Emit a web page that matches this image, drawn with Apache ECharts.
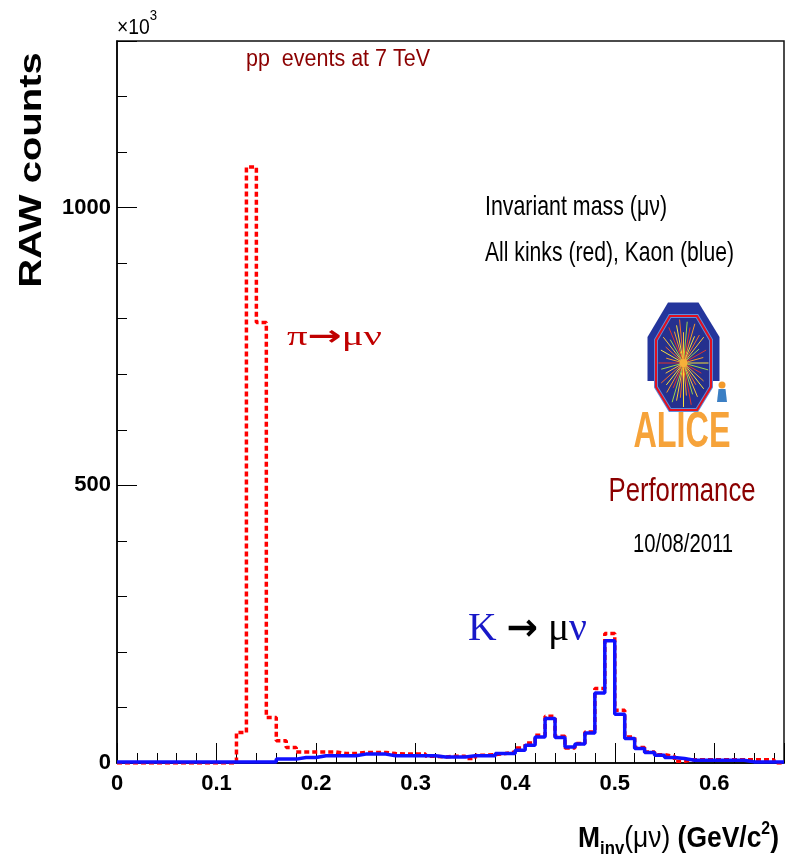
<!DOCTYPE html>
<html><head><meta charset="utf-8">
<script src="https://cdn.jsdelivr.net/npm/echarts@6/dist/echarts.min.js"></script>
<style>html,body{margin:0;padding:0;background:#fff}#c{width:788px;height:863px}</style>
</head><body><div id="c"></div>
<script>
// ---------------- data ----------------
const binWidth = 0.01;          // GeV/c^2 per bin, bins start at 0
const xMin = 0, xMax = 0.67;
const yMin = 0, yMax = 1300;    // x10^3 counts
// All kinks (red dashed), one value per bin (x10^3)
const allKinks = [0,0,0,0,0,0,0,0,0,0,0,0,
  55,1073,793,82,40,28,20,20,20,20,
  17,17,19,19,19,17,16,16,16,12,
  11,12,12,8,14,15,17,20,27,36,
  50,84,48,27,35,56,134,233,95,47,
  28,20,15,12,3,6,6,6,6,6,
  6,6,6,6,0];
// Kaon (blue), one value per bin (x10^3)
const kaons = [2,2,2,2,2,2,2,2,2,2,2,2,2,2,2,2,
  7,7,10,10,13,13,13,13,16,16,16,13,13,13,13,13,11,11,11,13,13,13,17,17,
  23,32,47,80,46,29,34,54,126,220,
  88,44,26,19,14,10,8,5,5,5,5,5,5,2,2,2,2];
const xTickLabels = ['0','0.1','0.2','0.3','0.4','0.5','0.6'];
const yTickLabels = ['0','500','1000'];

// ---------------- helpers ----------------
const SANS = '"Liberation Sans", Arial, sans-serif';
const SERIF = '"Liberation Serif", "Times New Roman", serif';
const ARROWF = '"DejaVu Sans", sans-serif';
const mctx = document.createElement('canvas').getContext('2d');
function hasFont(name){
  const t='0123456789 abcdefgh';
  mctx.font='bold 40px monospace'; const a=mctx.measureText(t).width;
  mctx.font='bold 40px "'+name+'", monospace'; const b=mctx.measureText(t).width;
  mctx.font='bold 40px serif'; const c=mctx.measureText(t).width;
  mctx.font='bold 40px "'+name+'", serif'; const d=mctx.measureText(t).width;
  return !(a===b && c===d);
}
const narrow = hasFont('Liberation Sans Narrow');
const AXF = narrow ? '"Liberation Sans Narrow", "Liberation Sans", sans-serif' : SANS;
const AXS = narrow ? 26 : 22;

function fontStr(p){ return (p.italic?'italic ':'normal ')+(p.weight||'normal')+' '+p.size+'px '+(p.family||SANS); }
function run(o){
  const ws = o.pieces.map(p=>{ mctx.font=fontStr(p); return mctx.measureText(p.t).width; });
  const total = ws.reduce((a,b)=>a+b,0);
  const s = o.targetW ? o.targetW/total : (o.scaleX||1);
  let cx = o.align==='right' ? o.x-total*s : o.align==='center' ? o.x-total*s/2 : o.x;
  const els=[];
  o.pieces.forEach((p,i)=>{
    els.push({type:'text', x:cx, y:o.y+(p.dy||0)-0.31*p.size, scaleX:s, silent:true,
      style:{text:p.t, fontSize:p.size, fontWeight:p.weight||'normal', fontFamily:p.family||SANS,
        fontStyle:p.italic?'italic':'normal', fill:p.color||'#000', align:'left', verticalAlign:'middle'}});
    cx += ws[i]*s;
  });
  return els;
}
function histPoints(vals){
  const pts = vals.map((v,i)=>[+(xMin+i*binWidth).toFixed(4), v]);
  pts.push([xMax, vals[vals.length-1]]);
  return pts;
}

// ---------------- annotations ----------------
const DRED = '#8b0000';
let g = [];
g = g.concat(run({x:117, y:35, scaleX:0.88, pieces:[{t:'×10', size:22},{t:'3', size:15, dy:-14}]}));
g = g.concat(run({x:246, y:67, targetW:184, pieces:[{t:'pp  events at 7 TeV', size:23, color:DRED}]}));
g = g.concat(run({x:485, y:216, targetW:182, pieces:[{t:'Invariant mass (μν)', size:28}]}));
g = g.concat(run({x:485, y:262, targetW:249, pieces:[{t:'All kinks (red), Kaon (blue)', size:28}]}));
g = g.concat(run({x:287, y:346, targetW:95, pieces:[
  {t:'π', size:28, family:SERIF, color:'#c00000'},
  {t:'→', size:28, family:ARROWF, weight:'bold', color:'#c00000'},
  {t:'μν', size:28, family:SERIF, color:'#c00000'}]}));
g = g.concat(run({x:468, y:642, targetW:119, pieces:[
  {t:'K ', size:40, family:SERIF, color:'#1818c8'},
  {t:'→', size:38, family:ARROWF, weight:'bold', color:'#000'},
  {t:' μ', size:40, family:SERIF, color:'#000'},
  {t:'ν', size:40, family:SERIF, color:'#1818c8'}]}));
g = g.concat(run({x:682, y:449, align:'center', targetW:97, pieces:[{t:'ALICE', size:50, weight:'bold', color:'#f6a33a'}]}));
g = g.concat(run({x:682, y:502, align:'center', targetW:147, pieces:[{t:'Performance', size:33, color:DRED}]}));
g = g.concat(run({x:683, y:553, align:'center', targetW:100, pieces:[{t:'10/08/2011', size:26}]}));
g = g.concat(run({x:779, y:848, align:'right', targetW:201, pieces:[
  {t:'M', size:30, weight:'bold'},
  {t:'inv', size:19, weight:'bold', dy:7},
  {t:'(μν)', size:30},
  {t:' (GeV/c', size:30, weight:'bold'},
  {t:'2', size:18, weight:'bold', dy:-13},
  {t:')', size:30, weight:'bold'}]}));
g.push({type:'text', x:32, y:170, rotation:Math.PI/2, scaleY:0.78, silent:true,
  style:{text:'RAW counts', fontSize:40, fontWeight:'bold', fontFamily:SANS, fill:'#000', align:'center', verticalAlign:'middle'}});

// ALICE logo (decoration)
g.push({type:'polygon', silent:true, shape:{points:[[668,302.5],[698.5,302.5],[719.5,337],[719.5,381],[647.5,381],[647.5,337]]},
  style:{fill:'#24359c'}});
const oct = [[670,316],[697,316],[711,340],[711,387],[697,410],[670,410],[656,387],[656,340]];
g.push({type:'polygon', silent:true, shape:{points:oct}, style:{fill:'#25308e', stroke:'#5b8fe0', lineWidth:4}});
const rayCols = ['#f7e03a','#f39a2b','#e2352b','#9bd54a','#f7c23a','#f06a2a'];
const rayLen = [1,0.8,0.95,0.7,1,0.9,0.75,1,0.85,0.95,0.7,1,0.9,0.8,1,0.75];
for (let k=0;k<40;k++){
  const a = k*Math.PI*2/40, f = rayLen[k%rayLen.length];
  g.push({type:'line', silent:true, shape:{x1:683.5, y1:363, x2:683.5+25*f*Math.cos(a), y2:363-44*f*Math.sin(a)},
    style:{stroke:rayCols[k%rayCols.length], lineWidth:1}});
}
g.push({type:'circle', silent:true, shape:{cx:683.5, cy:363, r:4}, style:{fill:'#f7b03a'}});
g.push({type:'polygon', silent:true, shape:{points:oct}, style:{fill:'none', stroke:'#e01020', lineWidth:2.2}});
g.push({type:'circle', silent:true, shape:{cx:722, cy:385, r:3.5}, style:{fill:'#f39a2b'}});
g.push({type:'polygon', silent:true, shape:{points:[[718.5,389],[725.5,389],[727,402],[717,402]]}, style:{fill:'#3b7fc4'}});

// ---------------- chart ----------------
const chart = echarts.init(document.getElementById('c'), null, {renderer:'canvas'});
const xFmt = v => { const i = Math.round(v*10); return Math.abs(v*10-i)<1e-6 && i < xTickLabels.length ? xTickLabels[i] : ''; };
const yFmt = v => { const i = Math.round(v/500); return Math.abs(v-i*500)<1e-6 && i < yTickLabels.length ? yTickLabels[i] : ''; };
const tickStyle = {color:'#000', width:1};
chart.setOption({
  animation:false,
  backgroundColor:'#fff',
  grid:{left:117, right:4, top:41, bottom:100, show:true, borderColor:'#111', borderWidth:1.5},
  xAxis:[
    {type:'value', min:xMin, max:xMax, interval:0.1, position:'bottom',
     axisLine:{show:true, onZero:false, lineStyle:{color:'#000', width:1.5}},
     axisTick:{show:true, inside:true, length:20, lineStyle:tickStyle},
     axisLabel:{formatter:xFmt, fontFamily:AXF, fontSize:AXS, fontWeight:'bold', color:'#000', margin:10},
     splitLine:{show:false}},
    {type:'value', min:xMin, max:xMax, interval:0.02, position:'bottom',
     axisLine:{show:false}, axisTick:{show:true, inside:true, length:10, lineStyle:tickStyle},
     axisLabel:{show:false}, splitLine:{show:false}}
  ],
  yAxis:[
    {type:'value', min:yMin, max:yMax, interval:500, position:'left',
     axisLine:{show:true, onZero:false, lineStyle:{color:'#000', width:1.5}},
     axisTick:{show:true, inside:true, length:20, lineStyle:tickStyle},
     axisLabel:{formatter:yFmt, fontFamily:AXF, fontSize:AXS, fontWeight:'bold', color:'#000', margin:6},
     splitLine:{show:false}},
    {type:'value', min:yMin, max:yMax, interval:100, position:'left',
     axisLine:{show:false}, axisTick:{show:true, inside:true, length:10, lineStyle:tickStyle},
     axisLabel:{show:false}, splitLine:{show:false}}
  ],
  series:[
    {type:'line', name:'All kinks', xAxisIndex:0, yAxisIndex:0, data:histPoints(allKinks), step:'end',
     symbol:'none', lineStyle:{color:'#ff0000', width:3.5, type:[5,3]}, z:2},
    {type:'line', name:'Kaon', xAxisIndex:0, yAxisIndex:0, data:histPoints(kaons), step:'end',
     symbol:'none', lineStyle:{color:'#1010ff', width:3.5}, z:3}
  ],
  graphic:{elements:g}
});
</script>
</body></html>
